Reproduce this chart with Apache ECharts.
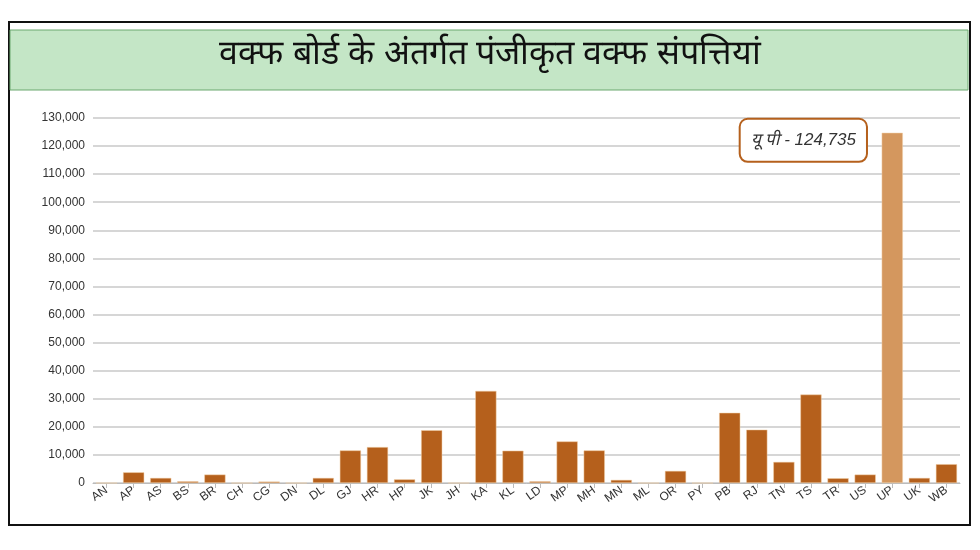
<!DOCTYPE html><html><head><meta charset="utf-8"><script src="https://cdn.jsdelivr.net/npm/echarts@6/dist/echarts.min.js"></script>
<style>body{margin:0;background:#fff}#c{width:980px;height:550px}</style></head><body><div id="c"></div><script>
const categories=['AN','AP','AS','BS','BR','CH','CG','DN','DL','GJ','HR','HP','JK','JH','KA','KL','LD','MP','MH','MN','ML','OR','PY','PB','RJ','TN','TS','TR','US','UP','UK','WB'];
const values=[0,3800,1800,600,3000,0,500,0,1800,11600,12800,1300,18800,0,32800,11500,600,14800,11600,1100,0,4300,0,25000,19000,7500,31500,1700,3000,124735,1800,6700];
const titleText='वक्फ बोर्ड के अंतर्गत पंजीकृत वक्फ संपत्तियां';
const highlightLabel='यू पी - 124,735';
const chart=echarts.init(document.getElementById('c'));
chart.setOption({
 graphic:[
  {type:'rect',shape:{x:9,y:22,width:961,height:503},style:{fill:'#fff',stroke:'#111',lineWidth:2},z:-10},
  {type:'rect',shape:{x:10,y:30,width:958,height:60},style:{fill:'#c4e6c6',stroke:'#6aa86e',lineWidth:1},z:-5},
  {type:'text',left:'center',top:38,style:{text:titleText,fontSize:34,fill:'#111',fontFamily:'sans-serif'}}
 ],
 grid:{left:93,right:20,top:118,bottom:67},
 xAxis:{type:'category',data:categories,axisLine:{lineStyle:{color:'#bbb'}},axisTick:{show:true,alignWithLabel:true,lineStyle:{color:'#bbb'}},
  axisLabel:{interval:0,rotate:35,color:'#333',fontSize:12,margin:6}},
 yAxis:{type:'value',min:0,max:130000,interval:10000,axisLabel:{color:'#333',fontSize:12,formatter:v=>v.toLocaleString('en-US')},
  splitLine:{lineStyle:{color:'#c8c8c8',width:1.5}}},
 series:[{type:'bar',barCategoryGap:'22%',data:values.map((v,i)=>categories[i]==='UP'?{value:v,itemStyle:{color:'#d4975e'},label:{show:true,position:'insideTopLeft',offset:[-146,-18],formatter:highlightLabel,
   color:'#333',fontStyle:'italic',fontSize:17,backgroundColor:'#fff',borderColor:'#b5601c',borderWidth:2,borderRadius:7,padding:[12,10]}}:v),
  itemStyle:{color:'#b5601c',borderColor:'#f3d0a8',borderWidth:0.5}}]
});
</script></body></html>
